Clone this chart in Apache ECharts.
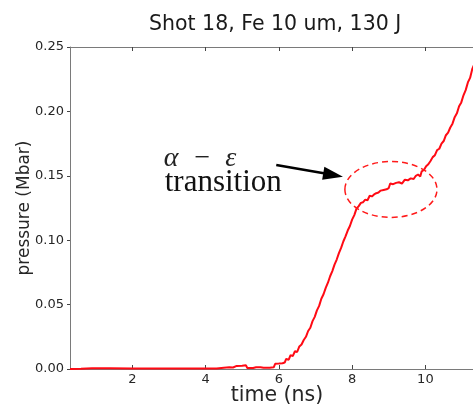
<!DOCTYPE html>
<html><head><meta charset="utf-8">
<script src="https://cdn.jsdelivr.net/npm/echarts@6/dist/echarts.min.js"></script>
<style>html,body{margin:0;padding:0;background:#fff}#c{width:473px;height:405px}</style>
</head><body><div id="c"></div>
<script>
// ---- data ----
const timeNs = [0.30,0.60,0.90,1.40,2.00,2.60,3.20,3.80,4.30,4.50,4.65,4.75,4.85,5.00,5.10,5.14,5.30,5.38,5.50,5.58,5.75,5.86,5.90,6.00,6.10,6.16,6.20,6.27,6.32,6.38,6.44,6.50,6.56,6.62,6.68,6.74,6.80,6.86,6.92,6.98,7.04,7.10,7.16,7.22,7.28,7.34,7.40,7.46,7.52,7.58,7.64,7.70,7.76,7.82,7.88,7.94,8.00,8.06,8.12,8.18,8.24,8.30,8.36,8.42,8.48,8.54,8.60,8.66,8.72,8.78,8.86,8.94,9.00,9.04,9.12,9.20,9.28,9.36,9.44,9.52,9.60,9.68,9.74,9.80,9.86,9.90,9.96,10.02,10.08,10.14,10.20,10.26,10.32,10.38,10.44,10.50,10.56,10.62,10.68,10.74,10.80,10.86,10.92,10.98,11.04,11.10,11.16,11.22,11.28,11.34];
const pressureMbar = [0.0000,0.0002,0.0006,0.0006,0.0004,0.0003,0.0003,0.0003,0.0004,0.0010,0.0013,0.0012,0.0024,0.0026,0.0030,0.0008,0.0008,0.0014,0.0013,0.0009,0.0010,0.0013,0.0040,0.0042,0.0045,0.0050,0.0078,0.0072,0.0108,0.0100,0.0138,0.0132,0.0175,0.0190,0.0225,0.0250,0.0295,0.0320,0.0372,0.0405,0.0455,0.0490,0.0545,0.0580,0.0630,0.0670,0.0720,0.0760,0.0810,0.0850,0.0900,0.0940,0.0990,0.1030,0.1075,0.1110,0.1160,0.1195,0.1245,0.1265,0.1290,0.1295,0.1315,0.1310,0.1345,0.1340,0.1355,0.1365,0.1370,0.1385,0.1390,0.1395,0.1405,0.1440,0.1435,0.1445,0.1450,0.1440,0.1470,0.1465,0.1480,0.1475,0.1500,0.1510,0.1495,0.1535,0.1545,0.1575,0.1590,0.1615,0.1645,0.1660,0.1700,0.1710,0.1750,0.1770,0.1815,0.1835,0.1875,0.1905,0.1955,0.1985,0.2040,0.2070,0.2125,0.2165,0.2225,0.2260,0.2330,0.2370];
const xTicks = [2,4,6,8,10];
const yTicks = [0.00,0.05,0.10,0.15,0.20,0.25];
const titleText = 'Shot 18, Fe 10 um, 130 J';
const xName = 'time (ns)';
const yName = 'pressure (Mbar)';
const noteMath = 'α  −  ε';
const noteWord = 'transition';
// annotation anchors (data coords)
const ellipseCenter = [9.06, 0.1394];
const ellipseRadius = [1.257, 0.0217];
const arrowFrom = [5.93, 0.1584];
const arrowTo = [7.75, 0.1493];
const noteAt = [2.83, 0.172];

const chart = echarts.init(document.getElementById('c'), null, {renderer:'canvas'});
const F = '"DejaVu Sans", sans-serif';
const axisCol = '#7a7a7a';
const txtCol = '#262626';
const series = timeNs.map((t,i)=>[t, pressureMbar[i]]);

chart.setOption({
  animation:false,
  backgroundColor:'#fff',
  title:{text:titleText, left:144, top:9, textStyle:{fontFamily:F, fontSize:20.5, fontWeight:'normal', color:'#1a1a1a'}},
  grid:{left:70, top:47, right:-11, bottom:36, containLabel:false, outerBoundsMode:'none'},
  xAxis:[{
    type:'value', min:0.3, max:11.6, position:'bottom',
    name:xName, nameLocation:'middle', nameGap:16, nameMoveOverlap:false,
    nameTextStyle:{fontFamily:F, fontSize:20.5, color:txtCol},
    axisLine:{show:true, lineStyle:{color:axisCol, width:1}},
    axisTick:{show:true, inside:true, length:4, lineStyle:{color:'#444'}, customValues:xTicks},
    axisLabel:{fontFamily:F, fontSize:13, color:txtCol, margin:4, customValues:xTicks},
    splitLine:{show:false}
  },{
    type:'value', min:0.3, max:11.6, position:'top',
    axisLine:{show:true, onZero:false, lineStyle:{color:axisCol, width:1}},
    axisTick:{show:true, inside:true, length:4, lineStyle:{color:'#444'}, customValues:xTicks},
    axisLabel:{show:false},
    splitLine:{show:false}
  }],
  yAxis:{
    type:'value', min:0, max:0.25, interval:0.05,
    name:yName, nameLocation:'middle', nameGap:37, nameMoveOverlap:false,
    nameTextStyle:{fontFamily:F, fontSize:17, color:txtCol},
    axisLine:{show:true, lineStyle:{color:axisCol, width:1}},
    axisTick:{show:true, inside:false, length:3, lineStyle:{color:'#444'}},
    axisLabel:{fontFamily:F, fontSize:13, color:txtCol, margin:6, formatter:v=>v.toFixed(2)},
    splitLine:{show:false}
  },
  series:[{
    type:'line', data:series, showSymbol:false, symbol:'none', clip:true,
    lineStyle:{color:'#ff0a14', width:2}
  }]
});

const P = v => chart.convertToPixel({xAxisIndex:0, yAxisIndex:0}, v);
const c = P(ellipseCenter);
const e = P([ellipseCenter[0]+ellipseRadius[0], ellipseCenter[1]+ellipseRadius[1]]);
const n = P(noteAt);
const a0 = P(arrowFrom), a1 = P(arrowTo);
const dx = a1[0]-a0[0], dy = a1[1]-a0[1], L = Math.hypot(dx,dy);
const ux = dx/L, uy = dy/L, headL = 20, headW = 6.5;
const bx = a1[0]-ux*headL, by = a1[1]-uy*headL;
chart.setOption({graphic:[
  {type:'ellipse', shape:{cx:c[0], cy:c[1], rx:Math.abs(e[0]-c[0]), ry:Math.abs(e[1]-c[1])},
   style:{fill:'none', stroke:'#ff1a1a', lineWidth:1.5, lineDash:[6,4]}, z:10},
  {type:'line', shape:{x1:a0[0], y1:a0[1], x2:bx+ux*2, y2:by+uy*2}, style:{stroke:'#000', lineWidth:2.5}, z:10},
  {type:'polygon', shape:{points:[[a1[0],a1[1]],[bx-uy*headW, by+ux*headW],[bx+uy*headW, by-ux*headW]]}, style:{fill:'#000'}, z:10},
  {type:'text', x:n[0]+1, y:n[1]-3, style:{text:noteMath, font:'italic 28px "Liberation Serif", serif', fill:'#222', textVerticalAlign:'top'}, z:10},
  {type:'text', x:n[0]+2, y:n[1]+20, style:{text:noteWord, font:'31px "Liberation Serif", serif', fill:'#111', textVerticalAlign:'top'}, z:10}
]});
</script></body></html>
